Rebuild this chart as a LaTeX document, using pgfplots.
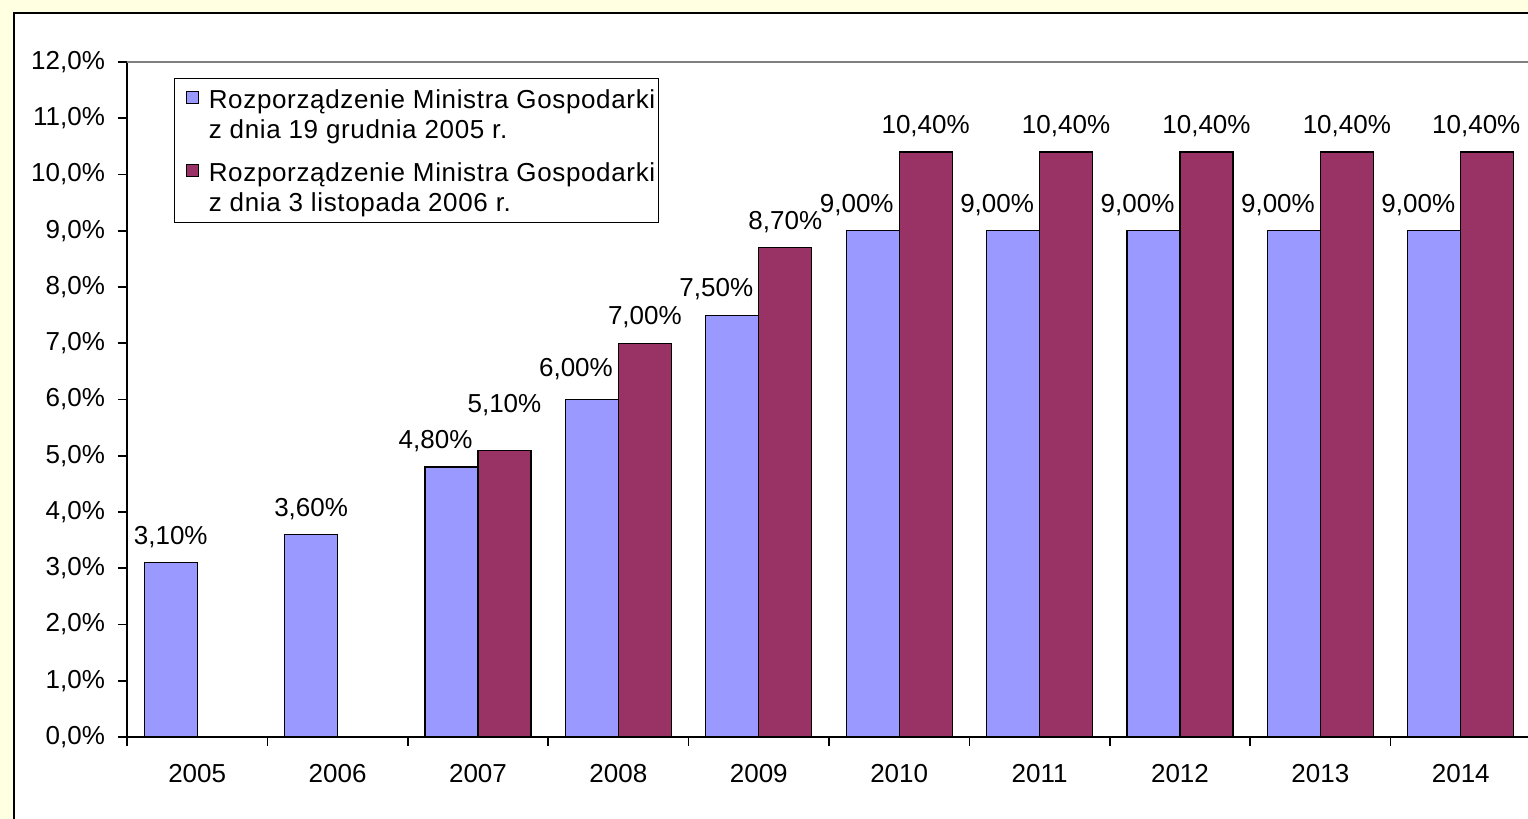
\documentclass[border=0pt]{standalone}
\usepackage{fontspec}
\setmainfont{Liberation Sans}
\usepackage{pgfplots}
\pgfplotsset{compat=1.18}
\definecolor{bblue}{RGB}{153,153,255}
\definecolor{bred}{RGB}{153,51,102}
\definecolor{bgyel}{RGB}{255,255,226}
\newcommand\cf{\fontsize{13}{15}\selectfont}
\newcommand\lf{\addfontfeature{LetterSpace=2.5}\fontsize{13}{15}\selectfont}
\begin{document}
\begin{tikzpicture}[x=1pt,y=1pt]
\path[use as bounding box] (0,0) rectangle (764,409.5);
\clip (0,0) rectangle (764,409.5);
\fill[bgyel] (0,0) rectangle (764,409.5);
\filldraw[fill=white, draw=black, line width=1pt] (6.8,-5) rectangle (780,403);
\begin{axis}[
  at={(63.5pt,41pt)}, anchor=south west,
  scale only axis, width=702pt, height=337.5pt,
  xmin=-0.5, xmax=9.5, ymin=0, ymax=12,
  axis x line*=bottom, axis y line*=left,
  axis line style={black, line width=0.8pt, -},
  ybar=0pt, bar width=0.377,
  xtick={-0.5,0.5,...,9.5},
  xticklabels={2005,2006,2007,2008,2009,2010,2011,2012,2013,2014},
  x tick label as interval,
  ytick={0,1,...,12},
  /pgf/number format/assume math mode=true,
  yticklabel={\pgfmathprintnumber[fixed,fixed zerofill,precision=1,use comma]{\tick}\%},
  ticklabel style={font=\cf, text=black},
  tick align=outside, major tick length=4.5pt,
  tick style={black, line width=0.8pt},
  xticklabel style={yshift=-5.5pt},
  yticklabel style={xshift=-3pt},
  nodes near coords={\pgfmathprintnumber[fixed,fixed zerofill,precision=2,use comma]{\pgfplotspointmeta}\%},
  nodes near coords style={font=\cf, text=black, anchor=base, inner sep=0pt},
  legend style={at={(0.0335,0.976)}, anchor=north west, draw=black, line width=0.6pt,
    font=\lf, inner xsep=5.5pt, inner ysep=4.2pt, row sep=9.5pt,
    nodes={inner sep=0pt},
    cells={anchor=base west}},
  legend image code/.code={%
    \draw[#1, line width=0.6pt, draw=black] (0pt,5.5pt) rectangle (6pt,11.5pt);},
  legend cell align=left,
]
\addplot[fill=bblue, draw=black, line width=0.6pt,
  visualization depends on={x \as \myx},
  nodes near coords style={xshift={(\myx>1.5)*(-8pt)}, yshift={9.2pt+(\myx>2.5)*(\myx<3.5)*2.5pt}}]
  coordinates {(0,3.1) (1,3.6) (2,4.8) (3,6.0) (4,7.5) (5,9.0) (6,9.0) (7,9.0) (8,9.0) (9,9.0)};
\addlegendentry{\begin{tabular}[b]{@{\hspace{5pt}}l@{\hspace{-4pt}}}Rozporządzenie Ministra Gospodarki\\z dnia 19 grudnia 2005 r.\end{tabular}}
\addplot[fill=bred, draw=black, line width=0.6pt,
  visualization depends on={x \as \myx},
  nodes near coords style={xshift={(\myx>8.5)*(-5.5pt)}, yshift={9.2pt+(\myx<2.5)*9.5pt}}]
  coordinates {(2,5.1) (3,7.0) (4,8.7) (5,10.4) (6,10.4) (7,10.4) (8,10.4) (9,10.4)};
\addlegendentry{\begin{tabular}[b]{@{\hspace{5pt}}l@{\hspace{-4pt}}}Rozporządzenie Ministra Gospodarki\\z dnia 3 listopada 2006 r.\end{tabular}}
\draw[gray, line width=0.6pt] (rel axis cs:0,1) -- (rel axis cs:1,1);
\end{axis}
\end{tikzpicture}
\end{document}
